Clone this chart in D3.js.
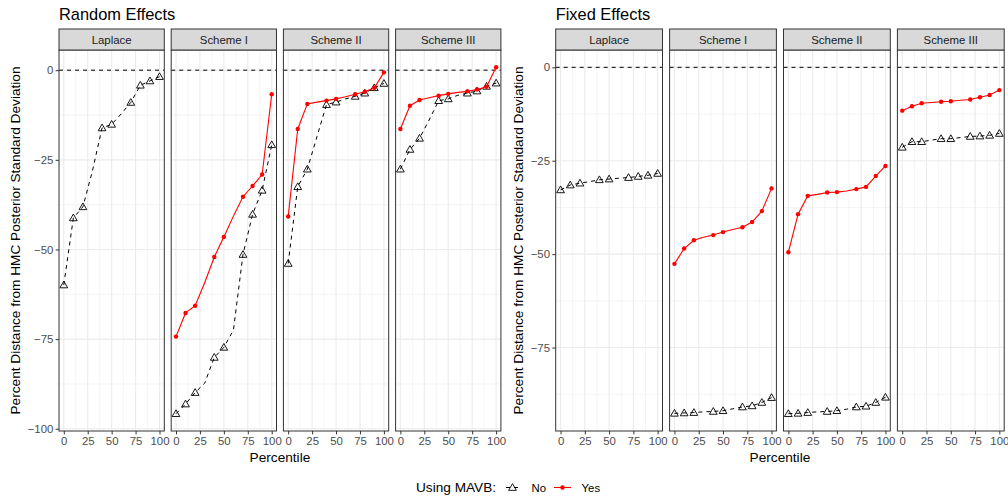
<!DOCTYPE html>
<html>
<head>
<meta charset="utf-8">
<script src="https://cdn.jsdelivr.net/npm/d3@7"></script>
<style>
body{margin:0;background:#fff;}
text{font-family:"Liberation Sans",Arial,sans-serif;}
</style>
</head>
<body>
<div class="chart"></div>
<script>
// data
var percentiles=[0,10,20,30,40,50,60,70,80,90,100];
var markerAt=[0,10,20,40,50,70,80,90,100];
var methods=["Laplace","Scheme I","Scheme II","Scheme III"];
var xTicks=[0,25,50,75,100];
var randomTicks=[-100,-75,-50,-25,0];
var fixedTicks=[-75,-50,-25,0];
var groups=["No","Yes"];

var randomNo=[
	[-59.9,-41.2,-38.1,-28.0,-16.1,-15.1,-12.2,-9.0,-4.2,-3.0,-1.8],
	[-95.8,-93.1,-89.9,-87.3,-80.1,-77.3,-72.5,-51.4,-40.2,-33.5,-20.8],
	[-53.9,-32.5,-27.6,-18.6,-9.6,-8.9,-8.0,-7.3,-6.4,-4.9,-3.7],
	[-27.6,-22.1,-19.0,-13.9,-8.5,-8.0,-7.0,-6.4,-5.8,-4.5,-3.6]
];
var randomYes=[
	null,
	[-74.3,-67.7,-65.7,-59.3,-52.1,-46.5,-40.7,-35.3,-32.3,-29.1,-6.7],
	[-40.8,-16.4,-9.4,-8.9,-8.5,-8.0,-7.4,-6.7,-6.0,-4.9,-0.6],
	[-16.4,-9.9,-8.3,-7.7,-7.1,-6.6,-6.2,-5.9,-5.4,-4.6,0.8]
];
var fixedNo=[
	[-32.8,-31.5,-31.0,-30.6,-30.1,-29.9,-29.7,-29.5,-29.2,-28.9,-28.4],
	[-92.6,-92.5,-92.4,-92.2,-92.1,-91.9,-91.4,-90.9,-90.6,-89.7,-88.4],
	[-92.7,-92.6,-92.4,-92.2,-92.1,-91.9,-91.5,-90.9,-90.7,-89.7,-88.3],
	[-21.4,-19.9,-19.9,-19.5,-19.1,-19.1,-18.8,-18.5,-18.4,-18.2,-17.7]
];
var fixedYes=[
	null,
	[-52.6,-48.5,-46.3,-45.5,-44.9,-44.1,-43.4,-42.8,-41.4,-38.5,-32.4],
	[-49.5,-39.3,-34.4,-34.0,-33.5,-33.4,-33.1,-32.6,-32.0,-29.1,-26.4],
	[-11.6,-10.4,-9.6,-9.4,-9.2,-9.1,-8.8,-8.6,-8.0,-7.4,-6.1]
];

var width=1008;
var height=499;
var panelTop=50,panelBottom=431;
var svg=d3.select('div.chart')
		.append('svg')
		.attr('width',width)
		.attr('height',height);

var triangle=d3.symbol().type(d3.symbolTriangle).size(26);

function expand(ext){
	var r=ext[1]-ext[0];
	return [ext[0]-r*0.05,ext[1]+r*0.05];
}

//one block of four facets
function facetBlock(title,noData,yesData,yTicks,x0,step,facetW,yTitleX){
	var all=[0];
	noData.forEach(function(s){all=all.concat(s);});
	yesData.forEach(function(s){if(s) all=all.concat(s);});
	var yScale=d3.scaleLinear()
			.domain(expand(d3.extent(all)))
			.range([panelBottom,panelTop]);
	var yDom=yScale.domain();
	var yMinor=[];
	for(var i=0;i<yTicks.length;i++){
		[yTicks[i]-12.5,yTicks[i]+12.5].forEach(function(v){
			if(v>yDom[0]&&v<yDom[1]&&yMinor.indexOf(v)<0&&yTicks.indexOf(v)<0) yMinor.push(v);
		});
	}

	svg.append('text')
		.attr('x',x0)
		.attr('y',19.5)
		.attr('font-size','16.4px')
		.attr('fill','#000')
		.text(title);

	methods.forEach(function(m,k){
		var left=x0+k*step;
		var xScale=d3.scaleLinear()
				.domain([-5,105])
				.range([left,left+facetW]);
		var g=svg.append('g');

		//grid
		g.selectAll('.xminor').data([12.5,37.5,62.5,87.5]).enter().append('line')
			.attr('x1',function(d){return xScale(d);}).attr('x2',function(d){return xScale(d);})
			.attr('y1',panelTop).attr('y2',panelBottom)
			.attr('stroke','#ebebeb').attr('stroke-width',0.55);
		g.selectAll('.yminor').data(yMinor).enter().append('line')
			.attr('x1',left).attr('x2',left+facetW)
			.attr('y1',function(d){return yScale(d);}).attr('y2',function(d){return yScale(d);})
			.attr('stroke','#ebebeb').attr('stroke-width',0.55);
		g.selectAll('.xmajor').data(xTicks).enter().append('line')
			.attr('x1',function(d){return xScale(d);}).attr('x2',function(d){return xScale(d);})
			.attr('y1',panelTop).attr('y2',panelBottom)
			.attr('stroke','#ebebeb').attr('stroke-width',1.1);
		g.selectAll('.ymajor').data(yTicks).enter().append('line')
			.attr('x1',left).attr('x2',left+facetW)
			.attr('y1',function(d){return yScale(d);}).attr('y2',function(d){return yScale(d);})
			.attr('stroke','#ebebeb').attr('stroke-width',1.1);

		//reference line
		g.append('line')
			.attr('x1',left).attr('x2',left+facetW)
			.attr('y1',yScale(0)).attr('y2',yScale(0))
			.attr('stroke','#000').attr('stroke-width',1)
			.attr('stroke-dasharray','4,4');

		var line=d3.line()
			.x(function(d){return xScale(d[0]);})
			.y(function(d){return yScale(d[1]);});

		var no=percentiles.map(function(p,i){return [p,noData[k][i]];});
		g.append('path')
			.datum(no)
			.attr('d',line)
			.attr('fill','none')
			.attr('stroke','#000')
			.attr('stroke-width',1)
			.attr('stroke-dasharray','4,4');
		g.selectAll('.tri').data(no.filter(function(d){return markerAt.indexOf(d[0])>=0;}))
			.enter().append('path')
			.attr('d',triangle)
			.attr('transform',function(d){return 'translate('+xScale(d[0])+','+(yScale(d[1])+0.6)+')';})
			.attr('fill','none')
			.attr('stroke','#000')
			.attr('stroke-width',0.9);

		if(yesData[k]){
			var yes=percentiles.map(function(p,i){return [p,yesData[k][i]];});
			g.append('path')
				.datum(yes)
				.attr('d',line)
				.attr('fill','none')
				.attr('stroke','#ff0000')
				.attr('stroke-width',1.1);
			g.selectAll('.dot').data(yes.filter(function(d){return markerAt.indexOf(d[0])>=0;}))
				.enter().append('circle')
				.attr('cx',function(d){return xScale(d[0]);})
				.attr('cy',function(d){return yScale(d[1]);})
				.attr('r',2.2)
				.attr('fill','#ff0000');
		}

		//border
		g.append('rect')
			.attr('x',left).attr('y',panelTop)
			.attr('width',facetW).attr('height',panelBottom-panelTop)
			.attr('fill','none').attr('stroke','#333333').attr('stroke-width',1);
		//strip
		g.append('rect')
			.attr('x',left).attr('y',29)
			.attr('width',facetW).attr('height',21)
			.attr('fill','#d9d9d9').attr('stroke','#333333').attr('stroke-width',1);
		g.append('text')
			.attr('x',left+facetW/2).attr('y',43.8)
			.attr('text-anchor','middle')
			.attr('font-size','11.4px')
			.attr('fill','#1a1a1a')
			.text(m);

		//x axis
		var xa=g.append('g')
			.attr('transform','translate(0,'+panelBottom+')')
			.call(d3.axisBottom(xScale).tickValues(xTicks).tickSize(3.4).tickPadding(2.3));
		xa.select('.domain').remove();
		xa.selectAll('line').attr('stroke','#333333');
		xa.selectAll('text').attr('font-size','11.4px').attr('fill','#4d4d4d')
			.attr('font-family','"Liberation Sans",Arial,sans-serif');
	});

	//y axis
	var ya=svg.append('g')
		.attr('transform','translate('+x0+',0)')
		.call(d3.axisLeft(yScale).tickValues(yTicks).tickSize(3.4).tickPadding(2.3)
			.tickFormat(function(d){return d<0?'\u2212'+Math.abs(d):d;}));
	ya.select('.domain').remove();
	ya.selectAll('line').attr('stroke','#333333');
	ya.selectAll('text').attr('font-size','11.4px').attr('fill','#4d4d4d')
		.attr('font-family','"Liberation Sans",Arial,sans-serif');

	svg.append('text')
		.attr('transform','translate('+yTitleX+','+((panelTop+panelBottom)/2)+') rotate(-90)')
		.attr('text-anchor','middle')
		.attr('font-size','13.65px')
		.text('Percent Distance from HMC Posterior Standard Deviation');

	var right=x0+3*step+facetW;
	svg.append('text')
		.attr('x',(x0+right)/2)
		.attr('y',462)
		.attr('text-anchor','middle')
		.attr('font-size','13.65px')
		.text('Percentile');
}

facetBlock('Random Effects',randomNo,randomYes,randomTicks,59,112.2,105.3,20);
facetBlock('Fixed Effects',fixedNo,fixedYes,fixedTicks,555.7,113.9,106.8,523);

//legend
var lg=svg.append('g');
lg.append('text')
	.attr('x',416).attr('y',492)
	.attr('font-size','13.65px')
	.text('Using MAVB:');
var keyX=[504,554];
groups.forEach(function(name,i){
	var cx=keyX[i]+8.5;
	lg.append('line')
		.attr('x1',keyX[i]).attr('x2',keyX[i]+17)
		.attr('y1',487.5).attr('y2',487.5)
		.attr('stroke',i==0?'#000':'#ff0000')
		.attr('stroke-width',i==0?1:1.1)
		.attr('stroke-dasharray',i==0?'4,4':null)
		.attr('stroke-dashoffset',i==0?-2:null);
	if(i==0){
		lg.append('path').attr('d',triangle)
			.attr('transform','translate('+cx+',488.1)')
			.attr('fill','none').attr('stroke','#000').attr('stroke-width',0.9);
	}else{
		lg.append('circle').attr('cx',cx).attr('cy',487.5).attr('r',2.2).attr('fill','#ff0000');
	}
	lg.append('text')
		.attr('x',keyX[i]+27.5).attr('y',491.8)
		.attr('font-size','11.4px')
		.text(name);
});
</script>
</body>
</html>
